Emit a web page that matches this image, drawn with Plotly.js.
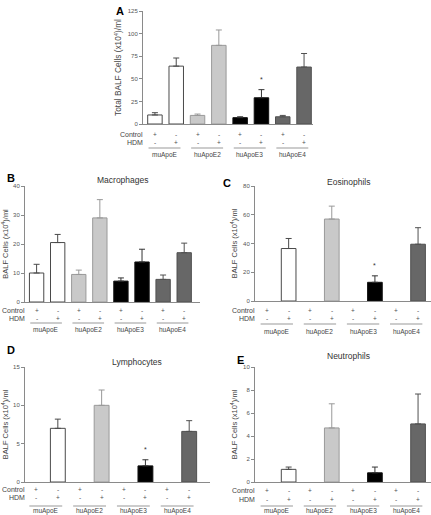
<!DOCTYPE html>
<html><head><meta charset="utf-8">
<script src="https://cdn.plot.ly/plotly-3.0.1.min.js"></script>
<style>html,body{margin:0;padding:0;background:#fff}</style>
</head><body><div id="chart" style="width:431px;height:515px"></div>
<script>
// ---- data ----
const groups = ['muApoE', 'huApoE2', 'huApoE3', 'huApoE4'];
const controlRow = ['+', '-', '+', '-', '+', '-', '+', '-'];
const hdmRow = ['-', '+', '-', '+', '-', '+', '-', '+'];
const panelLetters = ['A', 'B', 'C', 'D', 'E'];
const panelTitles = ['', 'Macrophages', 'Eosinophils', 'Lymphocytes', 'Neutrophils'];
const yTitles = ['Total BALF Cells (x10<sup>4</sup>)/ml', 'BALF Cells (x10<sup>4</sup>)/ml',
  'BALF Cells (x10<sup>4</sup>)/ml', 'BALF Cells (x10<sup>4</sup>)/ml', 'BALF Cells (x10<sup>4</sup>)/ml'];
const yMax = [125, 40, 80, 15, 10];
const yStep = [25, 10, 20, 5, 2];
// mean and upper SEM per bar (control, HDM for each group)
const totalMean = [10, 64, 9.5, 87, 7, 29, 8, 63];
const totalErr  = [2.5, 9, 1.5, 17, 1, 9, 1.5, 15];
const macroMean = [10, 20.5, 9.5, 29, 7.2, 13.8, 7.8, 17];
const macroErr  = [3, 2.8, 1.5, 6.3, 1.1, 4.4, 1.5, 3.3];
const eosMean   = [null, 36.5, null, 57, null, 13, null, 39.5];
const eosErr    = [null, 7, null, 9, null, 4.5, null, 11.5];
const lymMean   = [null, 7, null, 10, null, 2.1, null, 6.6];
const lymErr    = [null, 1.2, null, 2, null, 0.8, null, 1.4];
const neuMean   = [null, 1.1, null, 4.7, null, 0.8, null, 5.05];
const neuErr    = [null, 0.2, null, 2.1, null, 0.5, null, 2.6];
const totalSig  = ['', '', '', '', '', '*', '', ''];
const macroSig  = ['', '', '', '', '', '', '', ''];
const eosSig    = ['', '', '', '', '', '*', '', ''];
const lymSig    = ['', '', '', '', '', '*', '', ''];
const neuSig    = ['', '', '', '', '', '', '', ''];

const means = [totalMean, macroMean, eosMean, lymMean, neuMean];
const errs = [totalErr, macroErr, eosErr, lymErr, neuErr];
const sigs = [totalSig, macroSig, eosSig, lymSig, neuSig];

// ---- styles / layout geometry (pixels) ----
const W = 431, H = 515;
const fills = ['#ffffff', '#c9c9c9', '#000000', '#676767'];
const lines = ['#4a4a4a', '#9a9a9a', '#111111', '#505050'];
const errCols = ['#4a4a4a', '#999999', '#333333', '#505050'];
const yTitleSize = [8.3, 7.5, 7.5, 7.5, 7.5];
const geom = [
  {l:143, r:313, t:11, b:124, xr:[-0.56, 7.42], rows:[10,19,24,31], letter:[114,11], title:null},
  {l:25, r:200, t:186, b:302, xr:[-0.55, 7.75], rows:[8,16,21,28], letter:[5,178], title:[123,180]},
  {l:255, r:431, t:186, b:301, xr:[-0.56, 7.6], rows:[9,17,23,31], letter:[221,183], title:[348,182]},
  {l:25, r:210, t:367, b:482, xr:[-0.5, 7.95], rows:[7,15,24,29], letter:[5,350], title:[137,362]},
  {l:255, r:431, t:367, b:482, xr:[-0.56, 7.6], rows:[8,17,24,29], letter:[235,360], title:[348,356]}
];
const px = x => x / W;
const py = y => 1 - y / H;
const FONT = 'Liberation Sans, Arial, sans-serif';

const data = [];
const layout = {
  width: W, height: H, margin: {l:0, r:0, t:0, b:0},
  paper_bgcolor: '#fff', plot_bgcolor: 'rgba(0,0,0,0)',
  showlegend: false, barmode: 'overlay',
  font: {family: FONT, color: '#444'},
  annotations: [], shapes: []
};

geom.forEach((g, p) => {
  const sfx = p === 0 ? '' : String(p + 1);
  const xa = 'x' + sfx, ya = 'y' + sfx;
  groups.forEach((grp, k) => {
    const idx = [2*k, 2*k+1];
    data.push({
      type: 'bar', xaxis: xa, yaxis: ya,
      x: idx, y: idx.map(i => means[p][i]), width: 0.68,
      marker: {color: fills[k], line: {color: lines[k], width: 1}},
      error_y: {type: 'data', symmetric: false, array: idx.map(i => errs[p][i]),
        arrayminus: [0, 0], color: errCols[k], thickness: 1, width: 3},
      hoverinfo: 'skip'
    });
  });
  layout['xaxis' + sfx] = {
    domain: [px(g.l), px(g.r)], range: g.xr, anchor: ya,
    showline: true, linecolor: '#8a8a8a', linewidth: 1,
    ticks: '', showticklabels: false, showgrid: false, zeroline: false, fixedrange: true
  };
  layout['yaxis' + sfx] = {
    domain: [py(g.b), py(g.t)], range: [0, yMax[p]], anchor: xa,
    dtick: yStep[p], tick0: 0,
    showline: true, linecolor: '#8a8a8a', linewidth: 1,
    ticks: 'outside', ticklen: 3, tickcolor: '#8a8a8a', tickwidth: 1,
    tickfont: {size: 6, color: '#555'},
    showgrid: false, zeroline: false, fixedrange: true,
    title: {text: yTitles[p], font: {size: yTitleSize[p], color: '#444'}, standoff: 4}
  };
  const A = layout.annotations;
  // panel letter
  A.push({xref:'paper', yref:'paper', x:px(g.letter[0]), y:py(g.letter[1]), xanchor:'left', yanchor:'middle',
    text:'<b>'+panelLetters[p]+'</b>', showarrow:false, font:{size:11, color:'#000', family:FONT}});
  if (g.title) A.push({xref:'paper', yref:'paper', x:px(g.title[0]), y:py(g.title[1]), xanchor:'center', yanchor:'middle',
    text: panelTitles[p], showarrow:false, font:{size:8.5, color:'#333', family:FONT}});
  // row labels
  A.push({xref:'paper', yref:'paper', x:px(g.l+2), y:py(g.b+g.rows[0]), xanchor:'right', yanchor:'middle',
    text:'Control', showarrow:false, font:{size:7, color:'#444'}});
  A.push({xref:'paper', yref:'paper', x:px(g.l+2), y:py(g.b+g.rows[1]), xanchor:'right', yanchor:'middle',
    text:'HDM', showarrow:false, font:{size:7, color:'#444'}});
  for (let i = 0; i < 8; i++) {
    A.push({xref:xa, yref:'paper', x:i, y:py(g.b+g.rows[0]), xanchor:'center', yanchor:'middle',
      text:controlRow[i], showarrow:false, font:{size:6.5, color:'#555'}});
    A.push({xref:xa, yref:'paper', x:i, y:py(g.b+g.rows[1]), xanchor:'center', yanchor:'middle',
      text:hdmRow[i], showarrow:false, font:{size:6.5, color:'#555'}});
    if (sigs[p][i]) A.push({xref:xa, yref:ya, x:i, y:means[p][i] + errs[p][i], yshift:5,
      xanchor:'center', yanchor:'bottom', text:sigs[p][i], showarrow:false, font:{size:7, color:'#333'}});
  }
  groups.forEach((grp, k) => {
    layout.shapes.push({type:'line', xref:xa, yref:'paper', x0:2*k-0.3, x1:2*k+1.2,
      y0:py(g.b+g.rows[2]), y1:py(g.b+g.rows[2]), line:{color:'#999', width:1}});
    A.push({xref:xa, yref:'paper', x:2*k+0.45, y:py(g.b+g.rows[3]), xanchor:'center', yanchor:'middle',
      text:grp, showarrow:false, font:{size:6.5, color:'#444'}});
  });
});

Plotly.newPlot('chart', data, layout, {staticPlot: true, displayModeBar: false});
</script></body></html>
